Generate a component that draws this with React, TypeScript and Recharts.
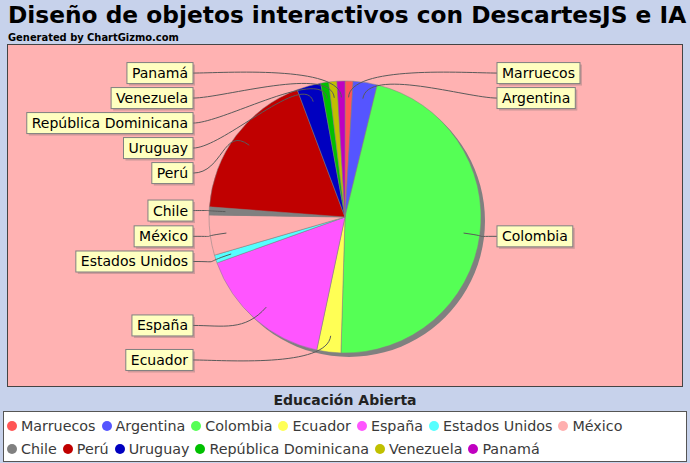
import React from 'react';
import { PieChart, Pie, Cell, Legend } from 'recharts';

const COUNTRIES = [
  'Marruecos',
  'Argentina',
  'Colombia',
  'Ecuador',
  'España',
  'Estados Unidos',
  'México',
  'Chile',
  'Perú',
  'Uruguay',
  'República Dominicana',
  'Venezuela',
  'Panamá',
];
const COUNTS = [1, 3, 49, 3, 17, 1, 5, 1, 19, 3, 1, 1, 1];
const COLORS = [
  '#FF5555', '#5555FF', '#55FF55', '#FFFF55', '#FF55FF', '#55FFFF', '#FFAFAF',
  '#808080', '#C00000', '#0000C0', '#00C000', '#C0C000', '#C000C0',
];

const TITLE = 'Diseño de objetos interactivos con DescartesJS e IA';
const SUBTITLE = 'Generated by ChartGizmo.com';
const SERIES_NAME = 'Educación Abierta';

const W = 690;
const H = 463;
const CX = 345;
const CY = 217;
const R = 136;
const LABEL_R = 144;
const LABEL_GAP = 25;
const LABEL_OFFSET = 152;
const LABEL_FONT = 14;
const FONT = "'DejaVu Sans', Verdana, sans-serif";

const data = COUNTRIES.map((name, i) => ({ name, value: COUNTS[i] }));
const total = COUNTS.reduce((a, b) => a + b, 0);

// where each label goes: y from the slice angle, then pushed down so boxes don't overlap
const layout = (() => {
  let acc = 0;
  const items = COUNTS.map((v, i) => {
    const mid = ((acc + v / 2) / total) * 360;
    acc += v;
    return { i, right: mid < 180, y: CY - LABEL_R * Math.cos((mid * Math.PI) / 180) };
  });
  [true, false].forEach((side) => {
    let last = -Infinity;
    items
      .filter((l) => l.right === side)
      .sort((a, b) => a.y - b.y)
      .forEach((l) => {
        if (l.y < last + LABEL_GAP) l.y = last + LABEL_GAP;
        last = l.y;
      });
  });
  return items;
})();

let ctx: CanvasRenderingContext2D | null = null;
const textWidth = (s: string) => {
  if (!ctx) ctx = document.createElement('canvas').getContext('2d');
  if (!ctx) return s.length * 8.4;
  ctx.font = `${LABEL_FONT}px ${FONT}`;
  return ctx.measureText(s).width;
};

const RADIAN = Math.PI / 180;

const renderLabel = (props: any) => {
  const { cx, cy, midAngle, outerRadius, name } = props;
  const index = props.index ?? COUNTRIES.indexOf(name);
  const l = layout[index];
  if (!l) return null;
  const label = COUNTRIES[index];
  const tw = textWidth(label);
  const bw = tw + 10;
  const bh = 21;
  const cos = Math.cos(-midAngle * RADIAN);
  const sin = Math.sin(-midAngle * RADIAN);
  const sx = cx + outerRadius * 0.88 * cos;
  const sy = cy + outerRadius * 0.88 * sin;
  const c1x = cx + outerRadius * 1.12 * cos;
  const c1y = cy + outerRadius * 1.12 * sin;
  const ex = l.right ? cx + LABEL_OFFSET : cx - LABEL_OFFSET;
  const c2x = l.right ? ex - 30 : ex + 30;
  const bx = l.right ? ex : ex - bw;
  return (
    <g key={`lbl-${index}`}>
      <path
        d={`M${sx},${sy} C${c1x},${c1y} ${c2x},${l.y} ${ex},${l.y}`}
        fill="none"
        stroke="#5a5a5a"
        strokeWidth={1}
      />
      <rect x={bx + 2} y={l.y - bh / 2 + 2} width={bw} height={bh} fill="rgba(120,110,110,0.35)" />
      <rect x={bx} y={l.y - bh / 2} width={bw} height={bh} fill="#FFFFC0" stroke="#808080" strokeWidth={1} />
      <text
        x={bx + 5}
        y={l.y}
        dominantBaseline="central"
        fontFamily={FONT}
        fontSize={LABEL_FONT}
        fill="#000"
      >
        {label}
      </text>
    </g>
  );
};

const renderLegend = () => {
  const rows = [COUNTRIES.slice(0, 7), COUNTRIES.slice(7)];
  return (
    <div
      style={{
        boxSizing: 'border-box',
        width: 684,
        height: 51,
        background: '#fff',
        border: '1px solid #555',
        padding: '2px 0 0 3px',
        fontFamily: FONT,
        fontSize: 14.3,
        color: '#3a3a3a',
      }}
    >
      {rows.map((row, ri) => (
        <div key={ri} style={{ display: 'flex', height: 23, alignItems: 'center', whiteSpace: 'nowrap' }}>
          {row.map((name) => {
            const i = COUNTRIES.indexOf(name);
            return (
              <span key={name} style={{ display: 'flex', alignItems: 'center', marginRight: 6 }}>
                <span
                  style={{
                    display: 'inline-block',
                    width: 10,
                    height: 10,
                    borderRadius: '50%',
                    background: COLORS[i],
                    marginRight: 4,
                  }}
                />
                {name}
              </span>
            );
          })}
        </div>
      ))}
    </div>
  );
};

export default function App() {
  return (
    <div
      style={{
        position: 'absolute',
        left: 0,
        top: 0,
        width: W,
        height: H,
        background: '#C7D2EB',
        overflow: 'hidden',
        fontFamily: FONT,
      }}
    >
      <div
        style={{
          position: 'absolute',
          left: 8,
          top: 1,
          fontSize: 23.3,
          fontWeight: 'bold',
          color: '#000',
          whiteSpace: 'nowrap',
        }}
      >
        {TITLE}
      </div>
      <div
        style={{
          position: 'absolute',
          left: 8,
          top: 31,
          fontSize: 11,
          fontWeight: 'bold',
          fontFamily: "'DejaVu Sans Condensed', 'DejaVu Sans', sans-serif",
          color: '#000',
          whiteSpace: 'nowrap',
        }}
      >
        {SUBTITLE}
      </div>
      <div
        style={{
          position: 'absolute',
          left: 7,
          top: 44,
          width: 676,
          height: 343,
          boxSizing: 'border-box',
          background: '#FFB2B2',
          border: '1px solid #444',
        }}
      />
      <div
        style={{
          position: 'absolute',
          left: 0,
          width: W,
          top: 392,
          textAlign: 'center',
          fontSize: 14,
          fontWeight: 'bold',
          color: '#222',
        }}
      >
        {SERIES_NAME}
      </div>
      <div style={{ position: 'absolute', left: 0, top: 0 }}>
        <PieChart width={W} height={H} margin={{ top: 0, right: 0, bottom: 0, left: 0 }}>
          <Pie
            data={[{ name: 'shadow', value: total }]}
            dataKey="value"
            cx={CX + 4}
            cy={CY + 4}
            outerRadius={R}
            startAngle={90}
            endAngle={-270}
            fill="#808080"
            stroke="none"
            legendType="none"
            isAnimationActive={false}
          />
          <Pie
            data={data}
            dataKey="value"
            nameKey="name"
            cx={CX}
            cy={CY}
            outerRadius={R}
            startAngle={90}
            endAngle={-270}
            stroke="#808080"
            strokeWidth={0.5}
            label={renderLabel}
            labelLine={false}
            isAnimationActive={false}
          >
            {data.map((d, i) => (
              <Cell key={d.name} fill={COLORS[i]} />
            ))}
          </Pie>
          <Legend
            verticalAlign="bottom"
            content={renderLegend}
            wrapperStyle={{ position: 'absolute', left: 3, top: 411, width: 684, height: 51 }}
          />
        </PieChart>
      </div>
    </div>
  );
}
